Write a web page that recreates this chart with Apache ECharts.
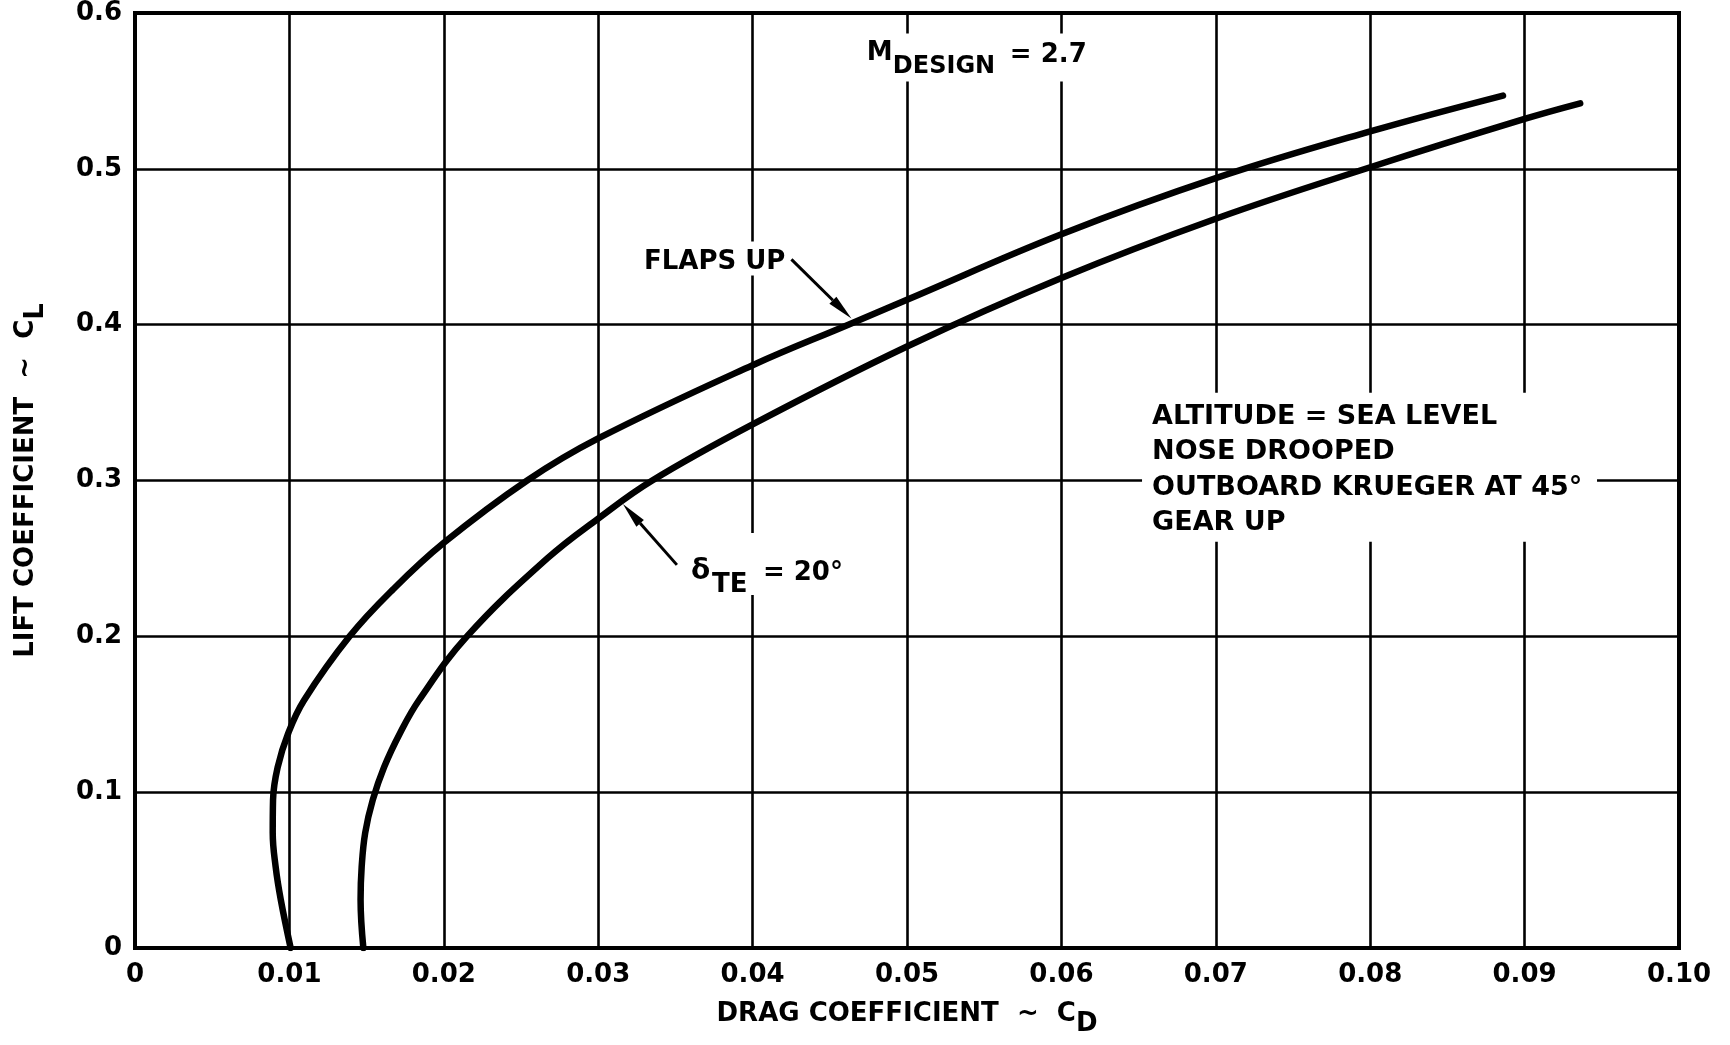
<!DOCTYPE html>
<html>
<head>
<meta charset="utf-8">
<title>Drag polar – M design 2.7</title>
<script src="https://cdn.jsdelivr.net/npm/echarts@6/dist/echarts.min.js"></script>
<style>
  html, body { margin: 0; padding: 0; background: #fff; }
  #chart { width: 1730px; height: 1045px; }
</style>
</head>
<body>
<div id="chart"></div>
<script>
// Drag polar at sea level, nose drooped, outboard Krueger at 45°, gear up.
// Each curve is a list of drag coefficients with the matching lift coefficients.
const flapsUpCD = [0.01008, 0.00944, 0.00911, 0.00892, 0.00894, 0.00924, 0.00993, 0.01095, 0.01390, 0.01670, 0.02000, 0.02540, 0.03000, 0.04000, 0.04620, 0.05000, 0.06000, 0.07000, 0.08000, 0.08860];
const flapsUpCL = [0.000, 0.031, 0.052, 0.074, 0.095, 0.116, 0.138, 0.159, 0.200, 0.230, 0.260, 0.300, 0.327, 0.374, 0.400, 0.416, 0.458, 0.494, 0.524, 0.547];

const te20CD = [0.01479, 0.01461, 0.01468, 0.01491, 0.01540, 0.01613, 0.01717, 0.01839, 0.02150, 0.02670, 0.03000, 0.03350, 0.04000, 0.05000, 0.06000, 0.07000, 0.08000, 0.09000, 0.09360];
const te20CL = [0.000, 0.031, 0.052, 0.074, 0.095, 0.116, 0.138, 0.159, 0.200, 0.250, 0.2756, 0.300, 0.336, 0.386, 0.430, 0.468, 0.501, 0.532, 0.542];

const xTickLabels = ['0', '0.01', '0.02', '0.03', '0.04', '0.05', '0.06', '0.07', '0.08', '0.09', '0.10'];
const yTickLabels = ['0', '0.1', '0.2', '0.3', '0.4', '0.5', '0.6'];

const FONT = '"DejaVu Sans", "Liberation Sans", sans-serif';
const INK = '#000';

function pairs(xs, ys) { return xs.map((x, i) => [x, ys[i]]); }

const chart = echarts.init(document.getElementById('chart'), null, { renderer: 'canvas' });

const curveStyle = { color: INK, width: 6.5, cap: 'round', join: 'round' };

chart.setOption({
  animation: false,
  backgroundColor: '#fff',
  grid: {
    left: 135, right: 51, top: 13, bottom: 97,
    containLabel: false, outerBoundsMode: 'none',
    show: true, borderColor: INK, borderWidth: 4, backgroundColor: 'transparent'
  },
  xAxis: {
    type: 'value', min: 0, max: 0.1, interval: 0.01,
    name: 'DRAG COEFFICIENT  ~  C{sub|D}',
    nameLocation: 'middle', nameGap: 43,
    nameTextStyle: {
      fontFamily: FONT, fontWeight: 'bold', fontSize: 26, color: INK,
      rich: { sub: { fontFamily: FONT, fontWeight: 'bold', fontSize: 26, color: INK, padding: [20, 0, 0, 0] } }
    },
    axisLine: { show: true, lineStyle: { color: INK, width: 4 } },
    axisTick: { show: false },
    splitLine: { show: true, lineStyle: { color: INK, width: 2.6 } },
    axisLabel: {
      margin: 14, fontFamily: FONT, fontWeight: 'bold', fontSize: 26, color: INK,
      formatter: v => xTickLabels[Math.round(v / 0.01)]
    }
  },
  yAxis: {
    type: 'value', min: 0, max: 0.6, interval: 0.1,
    name: 'LIFT COEFFICIENT  ~  C{sub|L}',
    nameLocation: 'middle', nameGap: 86, nameRotate: 90,
    nameTextStyle: {
      fontFamily: FONT, fontWeight: 'bold', fontSize: 26, color: INK,
      rich: { sub: { fontFamily: FONT, fontWeight: 'bold', fontSize: 26, color: INK, padding: [20, 0, 0, 0] } }
    },
    axisLine: { show: true, lineStyle: { color: INK, width: 4 } },
    axisTick: { show: false },
    splitLine: { show: true, lineStyle: { color: INK, width: 2.6 } },
    axisLabel: {
      margin: 13, fontFamily: FONT, fontWeight: 'bold', fontSize: 26, color: INK,
      formatter: v => yTickLabels[Math.round(v / 0.1)]
    }
  },
  series: [
    {
      name: 'FLAPS UP', type: 'line', data: pairs(flapsUpCD, flapsUpCL),
      smooth: 0.4, showSymbol: false, symbol: 'none', lineStyle: curveStyle, z: 5
    },
    {
      name: 'δTE = 20°', type: 'line', data: pairs(te20CD, te20CL),
      smooth: 0.4, showSymbol: false, symbol: 'none', lineStyle: curveStyle, z: 5
    }
  ]
});

// ---- annotations -------------------------------------------------------
function px(cd, cl) { return chart.convertToPixel({ gridIndex: 0 }, [cd, cl]); }

// y is the wanted middle of the capitals; the em box sits a little lower
function txt(x, y, text, opts) {
  opts = opts || {};
  return {
    type: 'text', z: 50, x: x, y: y + 5,
    style: {
      text: text, fill: INK, font: `bold ${opts.size || 26}px ${FONT}`,
      align: opts.align || 'left', verticalAlign: 'middle'
    }
  };
}
function whiteBox(x, y, w, h) {
  return { type: 'rect', z: 40, shape: { x: x, y: y, width: w, height: h }, style: { fill: '#fff' } };
}
function arrow(tail, tip) {
  const dx = tip[0] - tail[0], dy = tip[1] - tail[1];
  const len = Math.hypot(dx, dy), ux = dx / len, uy = dy / len;
  const headLen = 26, halfW = 5;
  const bx = tip[0] - ux * headLen, by = tip[1] - uy * headLen;
  return [
    { type: 'line', z: 50, shape: { x1: tail[0], y1: tail[1], x2: bx, y2: by },
      style: { stroke: INK, lineWidth: 3 } },
    { type: 'polygon', z: 50,
      shape: { points: [[tip[0], tip[1]], [bx - uy * halfW, by + ux * halfW], [bx + uy * halfW, by - ux * halfW]] },
      style: { fill: INK } }
  ];
}

const els = [];

// Design Mach number label at the top of the plot
const m = px(0.0474, 0.5772);
els.push(whiteBox(m[0] - 8, m[1] - 15, 232, 48));
els.push(txt(m[0], m[1], 'M'));
els.push(txt(m[0] + 26, m[1] + 13, 'DESIGN', { size: 24 }));
els.push(txt(m[0] + 143, m[1] + 2, '= 2.7'));

// FLAPS UP callout
const fuTip = px(0.0464, 0.404);
const fuTail = [fuTip[0] - 60, fuTip[1] - 59];
els.push(whiteBox(fuTail[0] - 150, fuTail[1] - 18, 146, 34));
els.push(txt(fuTail[0] - 6, fuTail[1] - 2, 'FLAPS UP', { align: 'right' }));
els.push(...arrow(fuTail, fuTip));

// Trailing-edge flap callout
const teTip = px(0.0316, 0.2850);
const teTail = [teTip[0] + 54, teTip[1] + 61];
els.push(whiteBox(teTail[0] + 10, teTail[1] - 32, 167, 62));
els.push(txt(teTail[0] + 14, teTail[1] + 2, 'δ', { size: 28 }));
els.push(txt(teTail[0] + 35, teTail[1] + 15, 'TE'));
els.push(txt(teTail[0] + 86, teTail[1] + 3, '= 20°'));
els.push(...arrow(teTail, teTip));

// Flight condition notes
const n = px(0.06587, 0.3441);
els.push(whiteBox(n[0] - 10, n[1] - 19, 455, 149));
['ALTITUDE = SEA LEVEL', 'NOSE DROOPED', 'OUTBOARD KRUEGER AT 45°', 'GEAR UP']
  .forEach((line, i) => els.push(txt(n[0], n[1] + i * 35.5, line, { size: 27 })));

chart.setOption({ graphic: { elements: els } });
</script>
</body>
</html>
